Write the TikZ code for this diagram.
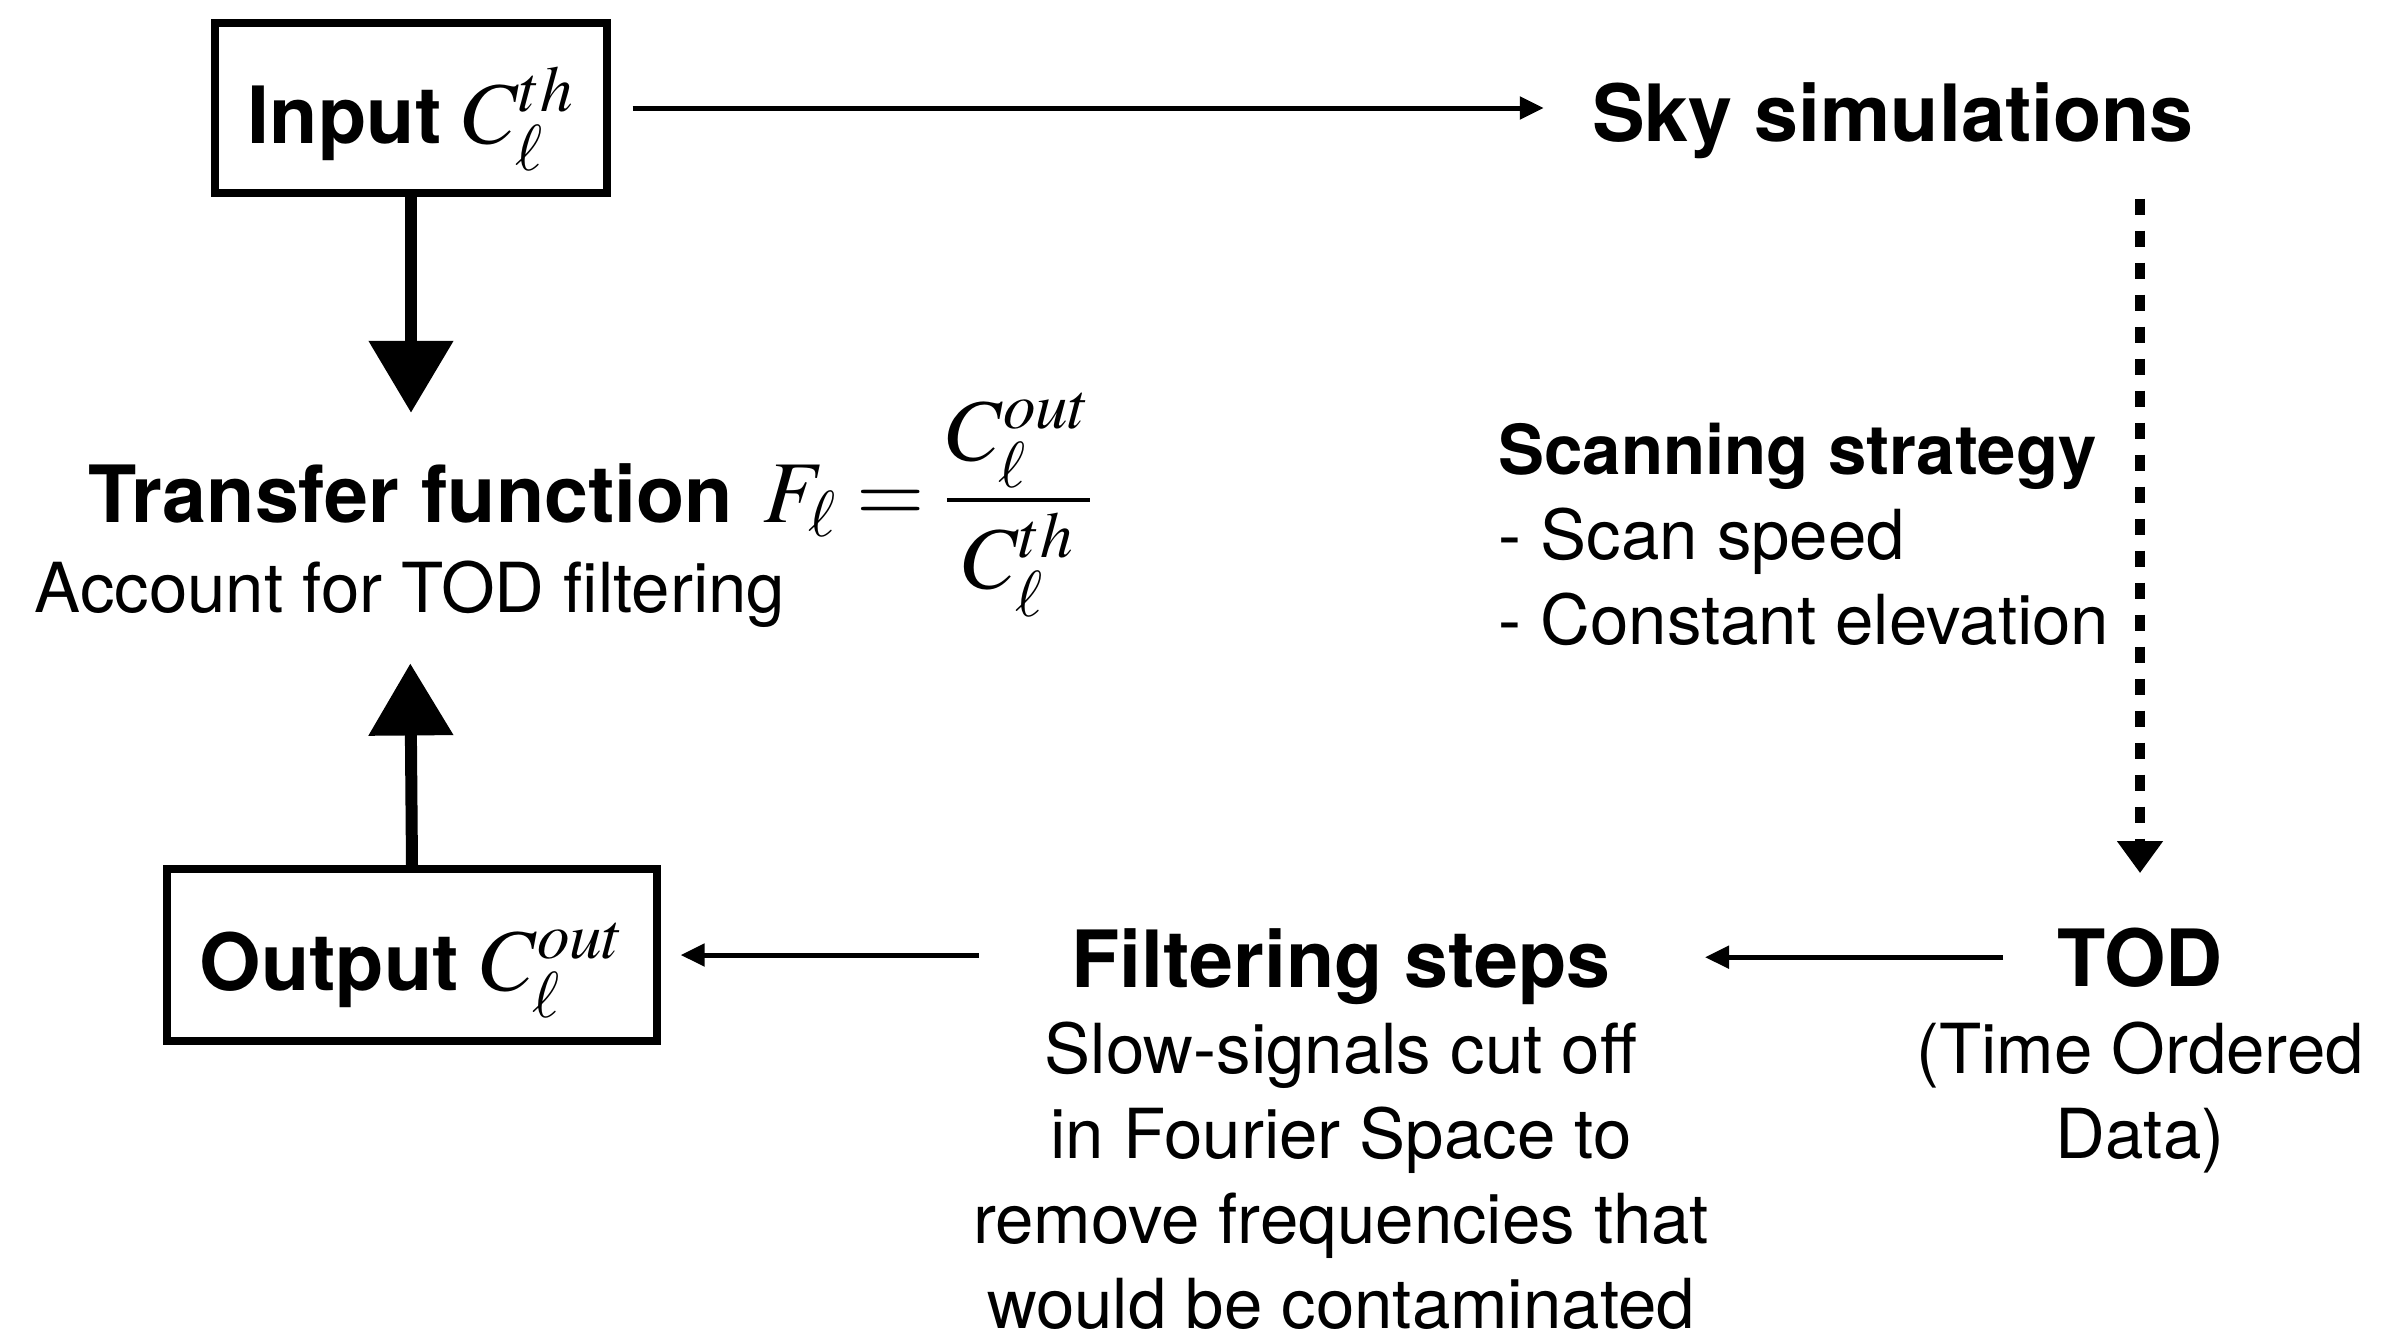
\documentclass[tikz,border=0pt]{standalone}
\usepackage{mathptmx}
\usepackage[no-math]{fontspec}
\setmainfont{TeX Gyre Heros}
\usepackage{amsmath}
\usetikzlibrary{arrows.meta,positioning}
\newcommand{\headfont}{\fontsize{39.5}{47}\selectfont\bfseries}
\newcommand{\bodyfont}{\fontsize{34.5}{42.5}\selectfont}
\newcommand{\bigmath}[1]{{\fontsize{44}{50}\selectfont$#1$}}

\begin{document}
\begin{tikzpicture}[x=0.5pt, y=-0.5pt, inner sep=0pt,
  head/.style={font=\headfont},
  body/.style={font=\bodyfont, align=center},
  sketchbox/.style={draw, line width=3.6pt, font=\headfont, text height=44pt, text depth=9pt},
  thinarrow/.style={line width=2.5pt, -{Triangle[length=12pt,width=11pt]}},
  dotarrow/.style={line width=5pt, dash pattern=on 8pt off 8pt, -{Triangle[length=16pt,width=22pt]}},
  bigarrow/.style={line width=6pt, -{Triangle[length=36pt,width=41pt]}}]
\path[fill=white] (0,0) rectangle (2382,1334);
\useasboundingbox (0,0) rectangle (2382,1334);

\node [sketchbox, minimum width=196pt, minimum height=85pt] (input) at (411,108) {Input \bigmath{C_\ell^{th}}};
\node [head, anchor=base] (sky) at (1893,141) {Sky simulations};
\node [body, align=left, anchor=base west] (scan) at (1498,644) {\textbf{Scanning strategy}\\- Scan speed\\- Constant elevation};
\node [head, anchor=base] (tod) at (2140,986) {TOD};
\node [body, anchor=base] (todnote) at (2140,1158) {(Time Ordered\\Data)};
\node [head, anchor=base] (filt) at (1341,987) {Filtering steps};
\node [body, anchor=base] (filtnote) at (1341,1328) {Slow-signals cut off\\in Fourier Space to\\remove frequencies that\\would be contaminated};
\node [sketchbox, minimum width=245pt, minimum height=86pt] (output) at (412,955) {Output \bigmath{C_\ell^{out}}};
\node [head, anchor=base] (tf) at (411,522) {Transfer function};
\node [body, anchor=base] (tfnote) at (410,612) {Account for TOD filtering};
\node [head, right=15pt of tf.base east, anchor=base west] (ratio) {\bigmath{F_\ell = \dfrac{C_\ell^{out}}{C_\ell^{th}}}};

\draw [thinarrow, shorten <=11pt, shorten >=24pt] (input.east) -- (input.east -| sky.west);
\draw [dotarrow, shorten <=20pt] (tod.north |- sky.south) -- ([yshift=27pt]tod.north);
\draw [thinarrow, shorten <=27pt, shorten >=47pt] (tod.west) -- (tod.west -| filt.east);
\draw [thinarrow, shorten <=46pt, shorten >=10pt] (output.east -| filt.west) -- (output.east);
\draw [bigarrow, shorten >=25pt] (input.south) -- (tf.north);
\draw [bigarrow, shorten >=18pt] (output.north) -- (tfnote.south);
\end{tikzpicture}
\end{document}
